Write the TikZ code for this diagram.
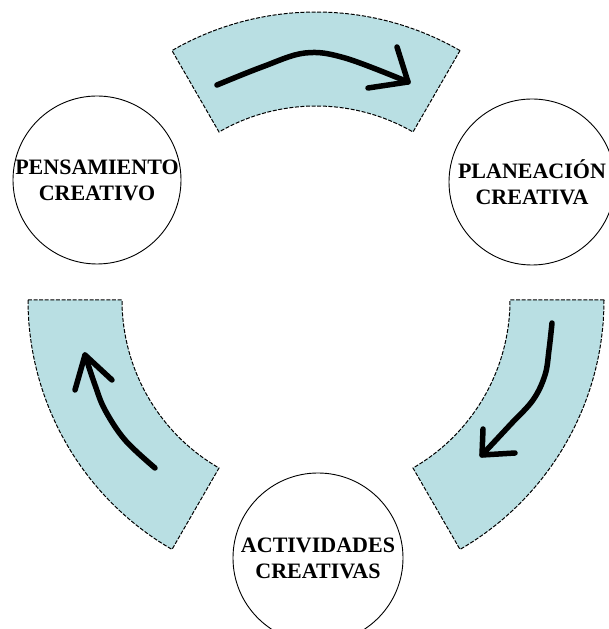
\documentclass[tikz,border=0pt]{standalone}
\usepackage{fontspec}
\setmainfont{Liberation Serif}
\usetikzlibrary{calc}
\definecolor{bandcol}{RGB}{185,223,227}
\tikzset{
  band/.style={fill=bandcol, draw=black, line width=1pt, dash pattern=on 4pt off 1.6pt},
  stage/.style={circle, draw=black, line width=0.9pt, minimum size=166pt, inner sep=0pt, align=center,
                font=\fontsize{22}{26}\selectfont\bfseries},
  flow/.style={line width=5.5pt, line cap=round, line join=round}
}
\begin{document}
\begin{tikzpicture}[x=1pt,y=1pt]
\useasboundingbox (0,0) rectangle (609,629);
\coordinate (C) at (316,329);
% bands
\path[band] ($(C)+(60:288)$) arc[start angle=60,end angle=120,radius=288]
  -- ($(C)+(120:194)$) arc[start angle=120,end angle=60,radius=194] -- cycle;
\path[band] ($(C)+(0:288)$) arc[start angle=0,end angle=-60,radius=288]
  -- ($(C)+(-60:194)$) arc[start angle=-60,end angle=0,radius=194] -- cycle;
\path[band] ($(C)+(180:288)$) arc[start angle=180,end angle=240,radius=288]
  -- ($(C)+(240:194)$) arc[start angle=240,end angle=180,radius=194] -- cycle;
% circles
\node[stage] (pens) at (97,449) {PENSAMIENTO\\CREATIVO};
\node[stage] (plan) at (532,447) {PLANEACIÓN\\CREATIVA};
\node[stage, minimum size=170pt] (act) at (318,71) {ACTIVIDADES\\CREATIVAS};
% top arrow
\coordinate (t0) at (217,544);
\coordinate (t1) at (408,547);
\coordinate (tb1) at (397,582);
\coordinate (tb2) at (368,541);
\draw[flow] plot[smooth, tension=0.6] coordinates {(t0) (262,562) (305,576) (345,571) (t1)};
\draw[flow] (tb1) -- (t1) -- (tb2);
% right arrow
\coordinate (r0) at (552,306);
\coordinate (r1) at (482,174);
\coordinate (rb1) at (483,200);
\coordinate (rb2) at (515,176);
\draw[flow] plot[smooth, tension=0.6] coordinates {(r0) (549,279) (545,254) (533,229) (510,204) (r1)};
\draw[flow] (rb1) -- (r1) -- (rb2);
% left arrow
\coordinate (l0) at (155,161);
\coordinate (l1) at (85,274);
\coordinate (lb1) at (75,239);
\coordinate (lb2) at (112,249);
\draw[flow] plot[smooth, tension=0.6] coordinates {(l0) (125,189) (105,219) (95,244) (l1)};
\draw[flow] (lb1) -- (l1) -- (lb2);
\end{tikzpicture}
\end{document}
